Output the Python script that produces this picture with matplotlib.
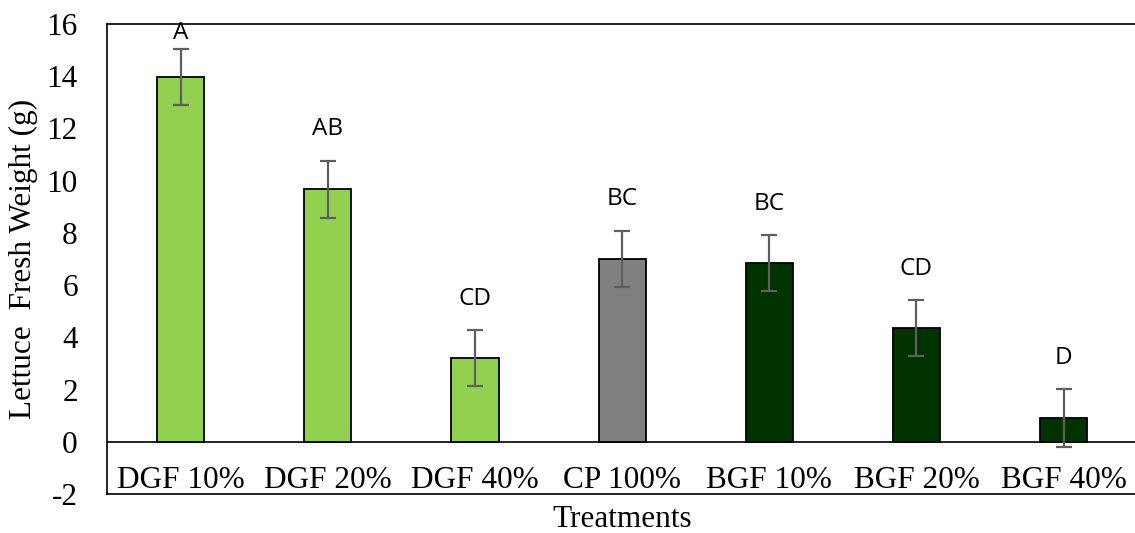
import matplotlib.pyplot as plt
import numpy as np

# treatment means and standard errors
treatments = ['DGF 10%', 'DGF 20%', 'DGF 40%', 'CP 100%', 'BGF 10%', 'BGF 20%', 'BGF 40%']
fresh_weight = [13.98, 9.67, 3.20, 7.00, 6.84, 4.36, 0.90]
std_err = [1.08, 1.10, 1.08, 1.09, 1.08, 1.07, 1.11]
letters = ['A', 'AB', 'CD', 'BC', 'BC', 'CD', 'D']
bar_colors = ['#92D050', '#92D050', '#92D050', '#808080', '#003300', '#003300', '#003300']
y_ticks = [-2, 0, 2, 4, 6, 8, 10, 12, 14, 16]

serif = ['Liberation Serif', 'DejaVu Serif']
plt.rcParams['font.family'] = serif

fig = plt.figure(figsize=(11.35, 5.33), dpi=100)
ax = fig.add_axes([107/1135, 39/533, 1.0 - 107/1135 + 0.002, 470/533])

x = np.arange(len(treatments))
ax.bar(x, fresh_weight, width=0.32, color=bar_colors, edgecolor='black',
       linewidth=1.3, zorder=3)
ax.errorbar(x, fresh_weight, yerr=std_err, fmt='none', ecolor='#5f5f5f',
            elinewidth=1.6, capsize=5.5, capthick=1.6, zorder=4)
ax.axhline(0, color='black', linewidth=1.2, zorder=2)

# significance letters above the error bars
for xi, m, e, s in zip(x, fresh_weight, std_err, letters):
    ax.text(xi, min(m + e + 1.2, 15.65), s, ha='center', va='center',
            fontsize=17.5, family=['Open Sans', 'DejaVu Sans'], zorder=5)

# category names sit inside the frame, under the zero line
for xi, name in zip(x, treatments):
    ax.text(xi, -1.48, name, ha='center', va='center', fontsize=22.5,
            family=serif)

ax.set_xlim(-0.5, len(treatments) - 0.5)
ax.set_ylim(-2, 16)
ax.set_yticks(y_ticks)
ax.set_yticklabels([str(v) for v in y_ticks], family=serif, fontsize=22.5)
ax.set_xticks([])
ax.tick_params(axis='y', length=0, pad=21)
ax.spines['right'].set_visible(False)
for side in ['left', 'top', 'bottom']:
    ax.spines[side].set_linewidth(1.2)

ax.set_ylabel('Lettuce  Fresh Weight (g)', fontsize=22.5, family=serif, labelpad=6)
ax.set_xlabel('Treatments', fontsize=22.5, family=serif, labelpad=8)

fig.savefig('out.png', dpi=100)
